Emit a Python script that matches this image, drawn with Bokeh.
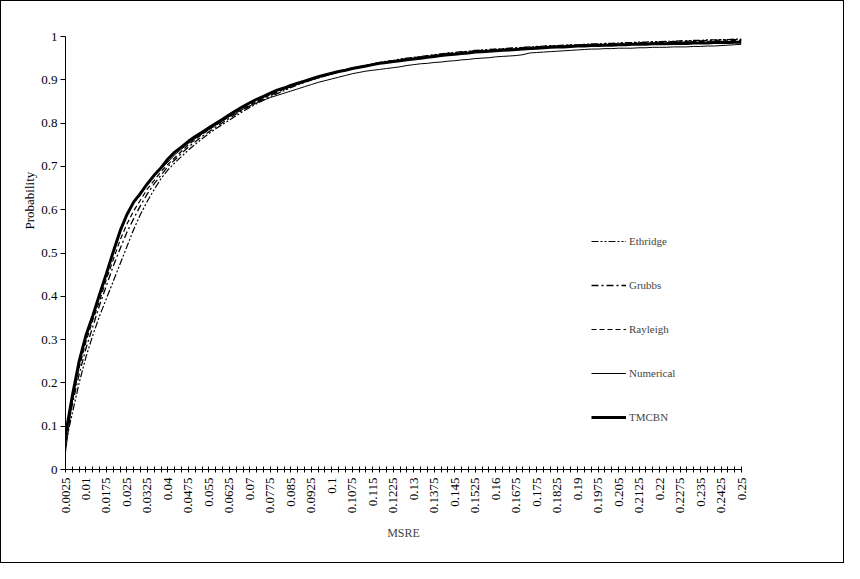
from math import pi
from bokeh.plotting import figure
from bokeh.models import Range1d, FixedTicker, Legend, LegendItem, Title
from bokeh.embed import file_html
from bokeh.resources import INLINE

# MSRE categories (0.0025 .. 0.25 in steps of 0.0025)
categories = [f"{0.0025 * k:.4f}".rstrip("0") for k in range(1, 101)]
label_every = 3

y_ticks = [0, 0.1, 0.2, 0.3, 0.4, 0.5, 0.6, 0.7, 0.8, 0.9, 1]
y_tick_labels = ["0", "0.1", "0.2", "0.3", "0.4", "0.5", "0.6", "0.7", "0.8", "0.9", "1"]

tmcbn = [0.08, 0.17, 0.25, 0.31, 0.355, 0.405, 0.453, 0.503, 0.551, 0.589,
         0.618, 0.638, 0.66, 0.68, 0.697, 0.717, 0.733, 0.745, 0.758, 0.769,
         0.779, 0.789, 0.799, 0.809, 0.819, 0.829, 0.838, 0.847, 0.855, 0.862,
         0.869, 0.876, 0.881, 0.887, 0.892, 0.897, 0.902, 0.907, 0.911, 0.915,
         0.919, 0.922, 0.926, 0.929, 0.932, 0.935, 0.938, 0.940, 0.942, 0.944,
         0.946, 0.948, 0.950, 0.952, 0.954, 0.956, 0.958, 0.959, 0.961, 0.962,
         0.964, 0.965, 0.966, 0.967, 0.968, 0.969, 0.970, 0.971, 0.972, 0.973,
         0.974, 0.975, 0.976, 0.976, 0.977, 0.978, 0.978, 0.979, 0.979, 0.980,
         0.980, 0.981, 0.981, 0.982, 0.982, 0.982, 0.983, 0.983, 0.983, 0.984,
         0.984, 0.984, 0.985, 0.985, 0.985, 0.986, 0.986, 0.986, 0.987, 0.987]

numerical = [0.04, 0.16, 0.245, 0.305, 0.355, 0.405, 0.455, 0.505, 0.55, 0.588,
             0.617, 0.64, 0.662, 0.68, 0.695, 0.71, 0.727, 0.74, 0.753, 0.764,
             0.775, 0.785, 0.795, 0.805, 0.815, 0.824, 0.832, 0.84, 0.847, 0.853,
             0.859, 0.864, 0.869, 0.874, 0.879, 0.884, 0.889, 0.894, 0.898, 0.902,
             0.906, 0.910, 0.914, 0.917, 0.920, 0.922, 0.924, 0.926, 0.928, 0.930,
             0.933, 0.935, 0.937, 0.938, 0.940, 0.941, 0.943, 0.944, 0.946, 0.947,
             0.949, 0.950, 0.951, 0.953, 0.954, 0.955, 0.956, 0.958, 0.962, 0.963,
             0.964, 0.965, 0.966, 0.967, 0.968, 0.969, 0.970, 0.971, 0.971, 0.972,
             0.972, 0.973, 0.973, 0.973, 0.974, 0.974, 0.975, 0.975, 0.975, 0.976,
             0.976, 0.976, 0.977, 0.977, 0.978, 0.978, 0.979, 0.980, 0.981, 0.982]

ethridge = [0.06, 0.13, 0.20, 0.26, 0.31, 0.355, 0.395, 0.435, 0.475, 0.515,
            0.555, 0.59, 0.62, 0.647, 0.672, 0.692, 0.708, 0.723, 0.738, 0.751,
            0.764, 0.776, 0.787, 0.797, 0.807, 0.817, 0.827, 0.836, 0.845, 0.853,
            0.861, 0.868, 0.875, 0.882, 0.888, 0.894, 0.899, 0.904, 0.909, 0.913,
            0.918, 0.922, 0.926, 0.930, 0.933, 0.937, 0.940, 0.943, 0.945, 0.948,
            0.950, 0.952, 0.954, 0.956, 0.958, 0.960, 0.962, 0.963, 0.965, 0.966,
            0.968, 0.969, 0.970, 0.971, 0.972, 0.973, 0.974, 0.975, 0.976, 0.977,
            0.978, 0.979, 0.979, 0.980, 0.981, 0.981, 0.982, 0.983, 0.983, 0.984,
            0.984, 0.985, 0.986, 0.986, 0.987, 0.987, 0.988, 0.988, 0.989, 0.989,
            0.990, 0.990, 0.991, 0.991, 0.992, 0.992, 0.993, 0.993, 0.994, 0.994]

grubbs = [0.07, 0.15, 0.22, 0.28, 0.33, 0.38, 0.425, 0.47, 0.51, 0.548,
          0.58, 0.61, 0.637, 0.66, 0.68, 0.70, 0.715, 0.73, 0.745, 0.757,
          0.769, 0.780, 0.791, 0.801, 0.811, 0.821, 0.830, 0.839, 0.848, 0.856,
          0.864, 0.871, 0.878, 0.884, 0.890, 0.895, 0.900, 0.905, 0.910, 0.914,
          0.918, 0.922, 0.926, 0.929, 0.933, 0.936, 0.939, 0.942, 0.944, 0.947,
          0.949, 0.951, 0.953, 0.955, 0.957, 0.959, 0.961, 0.962, 0.964, 0.965,
          0.967, 0.968, 0.969, 0.970, 0.971, 0.972, 0.973, 0.974, 0.975, 0.976,
          0.977, 0.978, 0.978, 0.979, 0.980, 0.980, 0.981, 0.982, 0.982, 0.983,
          0.983, 0.984, 0.985, 0.985, 0.986, 0.986, 0.987, 0.987, 0.988, 0.988,
          0.989, 0.989, 0.990, 0.990, 0.991, 0.991, 0.992, 0.992, 0.993, 0.993]

rayleigh = [0.07, 0.16, 0.235, 0.295, 0.345, 0.39, 0.44, 0.485, 0.53, 0.567,
            0.598, 0.623, 0.648, 0.668, 0.688, 0.705, 0.72, 0.735, 0.75, 0.762,
            0.774, 0.785, 0.795, 0.805, 0.815, 0.824, 0.833, 0.842, 0.850, 0.858,
            0.866, 0.873, 0.879, 0.885, 0.891, 0.896, 0.901, 0.906, 0.910, 0.914,
            0.918, 0.922, 0.926, 0.929, 0.932, 0.935, 0.938, 0.941, 0.943, 0.945,
            0.947, 0.949, 0.951, 0.953, 0.955, 0.957, 0.959, 0.960, 0.962, 0.963,
            0.965, 0.966, 0.967, 0.968, 0.969, 0.970, 0.971, 0.972, 0.973, 0.974,
            0.975, 0.976, 0.977, 0.977, 0.978, 0.979, 0.979, 0.980, 0.981, 0.981,
            0.982, 0.982, 0.983, 0.983, 0.984, 0.984, 0.985, 0.985, 0.986, 0.986,
            0.987, 0.987, 0.988, 0.988, 0.989, 0.989, 0.990, 0.990, 0.991, 0.991]

FONT = "Liberation Serif"
idx = list(range(len(categories)))

p = figure(width=844, height=563, output_backend="svg", toolbar_location=None,
           x_range=Range1d(0, len(categories) - 1), y_range=Range1d(0, 1),
           min_border_left=64, min_border_right=104, min_border_top=35,
           min_border_bottom=95)
p.styles = {"border": "1px solid black"}
p.outline_line_color = None
p.xgrid.visible = False
p.ygrid.visible = False
p.background_fill_color = "white"
p.border_fill_color = "white"

# x axis
p.xaxis.ticker = FixedTicker(ticks=idx)
p.xaxis.major_label_overrides = {i: (categories[i] if i % label_every == 0 else "") for i in idx}
p.xaxis.major_label_orientation = pi / 2
p.xaxis.major_tick_in = 3
p.xaxis.major_tick_out = 3
p.xaxis.minor_tick_line_color = None
p.xaxis.major_label_standoff = 5
p.xaxis.axis_label = "MSRE"
p.xaxis.axis_label_standoff = 10
p.xaxis.axis_label_text_font_style = "normal"
p.xaxis.axis_label_text_font = FONT
p.xaxis.axis_label_text_font_size = "12px"
p.xaxis.major_label_text_font = FONT
p.xaxis.major_label_text_font_size = "13px"
p.xaxis.major_label_text_color = "black"
p.xaxis.axis_line_color = "black"

# y axis
p.yaxis.ticker = FixedTicker(ticks=y_ticks)
p.yaxis.major_label_overrides = {t: l for t, l in zip(y_ticks, y_tick_labels)}
p.yaxis.major_tick_in = 0
p.yaxis.major_tick_out = 5
p.yaxis.minor_tick_line_color = None
p.yaxis.major_label_standoff = 3
p.yaxis.major_label_text_font = FONT
p.yaxis.major_label_text_font_size = "13px"
p.yaxis.major_label_text_color = "black"
p.yaxis.axis_line_color = "black"

ytitle = Title(text="Probability", align="left", offset=240, standoff=4,
               text_font=FONT, text_font_size="13px", text_font_style="normal",
               text_color="black")
p.add_layout(ytitle, "left")

r_eth = p.line(idx, ethridge, line_color="black", line_width=1.2, line_dash="7 2 2 2 2 2")
r_gru = p.line(idx, grubbs, line_color="black", line_width=1.3, line_dash="7 3 2 3")
r_ray = p.line(idx, rayleigh, line_color="black", line_width=1.2, line_dash="5 3")
r_num = p.line(idx, numerical, line_color="black", line_width=1)
r_tmc = p.line(idx, tmcbn, line_color="black", line_width=3)

legend = Legend(items=[
    LegendItem(label="Ethridge", renderers=[r_eth]),
    LegendItem(label="Grubbs", renderers=[r_gru]),
    LegendItem(label="Rayleigh", renderers=[r_ray]),
    LegendItem(label="Numerical", renderers=[r_num]),
    LegendItem(label="TMCBN", renderers=[r_tmc]),
], location=(526, 42), glyph_width=35, glyph_height=20, label_height=20,
   spacing=24, padding=0, margin=0, label_standoff=3,
   label_text_font=FONT, label_text_font_size="11px",
   background_fill_alpha=0, border_line_alpha=0)
p.add_layout(legend)

open("out.html", "w").write(file_html(p, INLINE))
